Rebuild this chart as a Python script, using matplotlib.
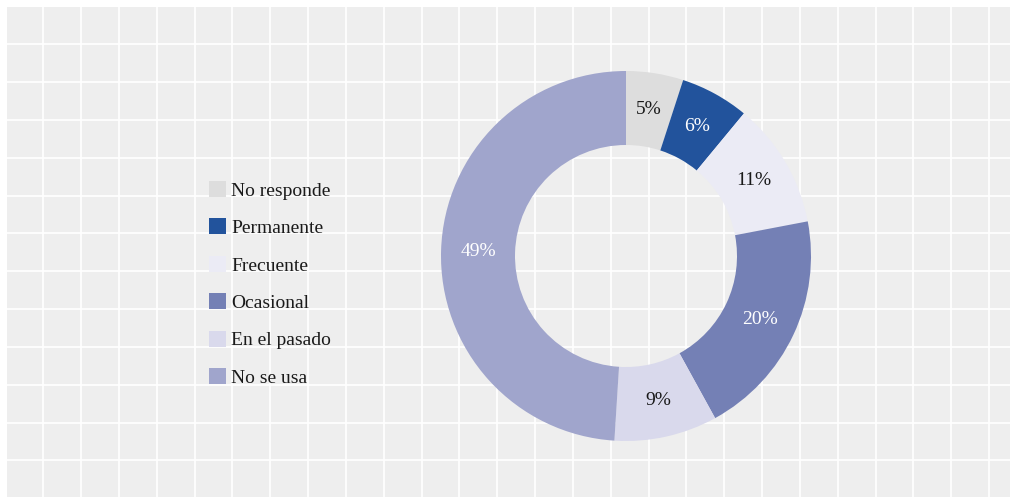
"""Donut chart of usage frequency with a tiled grey background."""
import numpy as np
import matplotlib
matplotlib.use("Agg")
import matplotlib.pyplot as plt  # noqa: E402

categories = ["No responde", "Permanente", "Frecuente", "Ocasional",
              "En el pasado", "No se usa"]
shares = [5, 6, 11, 20, 9, 49]
colors = ["#dddddd", "#22539c", "#ebebf5", "#7480b5", "#d9d9ec", "#a0a5cc"]
label_colors = ["#1a1a1a", "white", "#1a1a1a", "white", "#1a1a1a", "white"]

plt.rcParams["font.family"] = ["Liberation Serif", "DejaVu Serif"]

W, H = 1010, 497
fig = plt.figure(figsize=(W / 100, H / 100), dpi=100)

# background panel: light grey with white square grid, in pixel units
bg = fig.add_axes([7 / W, 0, (W - 7) / W, (H - 7) / H])
bg.set_xlim(7, W)
bg.set_ylim(H, 7)
bg.set_facecolor("#eeeeee")
bg.set_xticks(np.arange(43.3, W, 37.83))
bg.set_yticks(np.arange(44.3, H, 37.83))
bg.grid(True, color="white", lw=1.2)
bg.tick_params(length=0, labelbottom=False, labelleft=False)
for sp in bg.spines.values():
    sp.set_visible(False)

# donut
ax = fig.add_axes([441 / W, 56 / H, 370 / W, 370 / H])
wedges, texts, autotexts = ax.pie(
    shares, colors=colors, startangle=90, counterclock=False,
    radius=1.0, wedgeprops=dict(width=0.4, linewidth=0),
    autopct=lambda p: "%d%%" % round(p), pctdistance=0.8,
    textprops=dict(fontsize=14))
for t, c in zip(autotexts, label_colors):
    t.set_color(c)
ax.set_xlim(-1, 1)
ax.set_ylim(-1, 1)
ax.set_axis_off()

leg = fig.legend(wedges, categories, loc="upper left",
                 bbox_to_anchor=(209 / W, 1 - 181 / H),
                 frameon=False, fontsize=14, handlelength=0.88,
                 handleheight=0.88, handletextpad=0.25, labelspacing=0.965,
                 borderpad=0, borderaxespad=0)
for txt in leg.get_texts():
    txt.set_color("#1a1a1a")

fig.savefig("out.png", dpi=100)
plt.close(fig)
print("wrote out.png")
